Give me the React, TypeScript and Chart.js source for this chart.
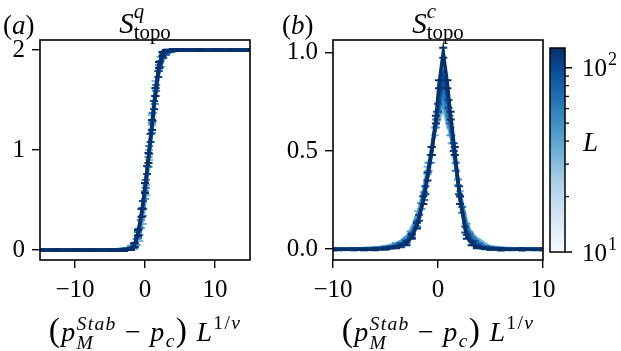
import React, { useEffect, useRef } from 'react';
import { Chart, registerables } from 'chart.js';
Chart.register(...registerables);

const FONT = "'Liberation Serif', 'Times New Roman', serif";
const W = 621;
const H = 351;

// System sizes (colour scale)
const L_VALUES = [32, 48, 64, 96, 128];
const L_MIN = 10;
const L_MAX = 128;

// Panel (a): S^q_topo vs scaled x
const QX_32 = [-14, -10, -6, -3, -1.5, -0.8, -0.3, 0.2, 0.6, 1.0, 1.5, 2.2, 3.2, 6, 10, 14];
const QY_32 = [0, 0, 0, 0, 0.03, 0.12, 0.3, 0.6, 0.95, 1.3, 1.65, 1.9, 1.99, 2, 2, 2];
const QE_32 = [0.01, 0.01, 0.01, 0.01, 0.02, 0.03, 0.04, 0.05, 0.05, 0.05, 0.04, 0.03, 0.02, 0.01, 0.01, 0.01];

const QX_48 = [-15, -11, -7, -4, -2, -1.2, -0.6, 0, 0.5, 1, 1.4, 2, 2.8, 4, 7, 11, 15];
const QY_48 = [0, 0, 0, 0, 0.02, 0.08, 0.26, 0.55, 0.88, 1.22, 1.5, 1.82, 1.97, 2, 2, 2, 2];
const QE_48 = [0.01, 0.01, 0.01, 0.01, 0.02, 0.03, 0.04, 0.04, 0.05, 0.05, 0.04, 0.03, 0.02, 0.01, 0.01, 0.01, 0.01];

const QX_64 = [-14.5, -12, -8, -5, -2.5, -1.6, -1, -0.4, 0.1, 0.6, 1.1, 1.6, 2.2, 3, 4.5, 8, 12, 14.5];
const QY_64 = [0, 0, 0, 0, 0.01, 0.04, 0.15, 0.38, 0.66, 1.0, 1.33, 1.62, 1.86, 1.97, 2, 2, 2, 2];
const QE_64 = [0.01, 0.01, 0.01, 0.01, 0.01, 0.02, 0.03, 0.04, 0.04, 0.04, 0.04, 0.03, 0.03, 0.02, 0.01, 0.01, 0.01, 0.01];

const QX_96 = [-15, -13, -10, -7, -4, -2.2, -1.5, -0.9, -0.3, 0.3, 0.8, 1.3, 1.9, 2.6, 3.5, 5, 8, 11, 14];
const QY_96 = [0, 0, 0, 0, 0, 0.01, 0.05, 0.18, 0.45, 0.8, 1.12, 1.45, 1.76, 1.94, 1.99, 2, 2, 2, 2];
const QE_96 = [0.01, 0.01, 0.01, 0.01, 0.01, 0.01, 0.02, 0.03, 0.04, 0.04, 0.04, 0.04, 0.03, 0.02, 0.01, 0.01, 0.01, 0.01, 0.01];

const QX_128 = [-15, -12.5, -10, -7.5, -5, -3, -2, -1.5, -1, -0.5, 0, 0.5, 1, 1.5, 2, 2.5, 3, 4, 5, 7.5, 10, 12.5, 15];
const QY_128 = [0, 0, 0, 0, 0, 0, 0.01, 0.05, 0.17, 0.37, 0.62, 0.92, 1.25, 1.58, 1.85, 1.96, 1.99, 2, 2, 2, 2, 2, 2];
const QE_128 = [0.01, 0.01, 0.01, 0.01, 0.01, 0.01, 0.01, 0.02, 0.03, 0.04, 0.05, 0.05, 0.05, 0.04, 0.03, 0.02, 0.01, 0.01, 0.01, 0.01, 0.01, 0.01, 0.01];

// Panel (b): S^c_topo vs scaled x
const CX_32 = [-8, -5, -3, -1.9, -1, -0.3, 0.5, 1.3, 2.1, 3, 5, 8];
const CY_32 = [0, 0.01, 0.05, 0.18, 0.4, 0.6, 0.72, 0.56, 0.28, 0.08, 0.01, 0];
const CE_32 = [0.005, 0.005, 0.01, 0.015, 0.02, 0.02, 0.02, 0.02, 0.015, 0.01, 0.005, 0.005];

const CX_48 = [-9, -6, -4, -2.6, -1.6, -0.9, -0.2, 0.5, 1.2, 1.9, 2.7, 4, 6, 9];
const CY_48 = [0, 0.005, 0.02, 0.08, 0.22, 0.42, 0.64, 0.76, 0.6, 0.34, 0.12, 0.02, 0, 0];
const CE_48 = [0.005, 0.005, 0.01, 0.01, 0.015, 0.02, 0.02, 0.02, 0.02, 0.015, 0.01, 0.01, 0.005, 0.005];

const CX_64 = [-9.5, -7, -4.5, -3, -2, -1.3, -0.7, -0.1, 0.5, 1.1, 1.7, 2.3, 3, 4.5, 7, 9.5];
const CY_64 = [0, 0, 0.01, 0.04, 0.13, 0.27, 0.46, 0.68, 0.8, 0.66, 0.42, 0.2, 0.07, 0.01, 0, 0];
const CE_64 = [0.005, 0.005, 0.005, 0.01, 0.015, 0.02, 0.02, 0.02, 0.02, 0.02, 0.02, 0.015, 0.01, 0.005, 0.005, 0.005];

const CX_96 = [-10, -7, -5, -3.5, -2.5, -1.8, -1.2, -0.6, 0, 0.5, 1, 1.5, 2, 2.6, 3.4, 4.5, 6, 8, 10];
const CY_96 = [0, 0, 0.005, 0.02, 0.07, 0.16, 0.3, 0.5, 0.72, 0.88, 0.74, 0.52, 0.3, 0.1, 0.03, 0.005, 0, 0, 0];
const CE_96 = [0.005, 0.005, 0.005, 0.01, 0.01, 0.015, 0.02, 0.02, 0.02, 0.02, 0.02, 0.02, 0.02, 0.015, 0.01, 0.005, 0.005, 0.005, 0.005];

const CX_128 = [-10, -8, -6, -5, -4, -3, -2.5, -2, -1.4, -1, -0.6, -0.2, 0.1, 0.5, 0.9, 1.2, 1.6, 2.1, 2.75, 3.2, 3.7, 5, 6, 8, 10];
const CY_128 = [0, 0, 0, 0.003, 0.01, 0.03, 0.063, 0.12, 0.25, 0.37, 0.5, 0.66, 0.84, 1.0, 0.84, 0.68, 0.5, 0.25, 0.063, 0.03, 0.01, 0.002, 0, 0, 0];
const CE_128 = [0.005, 0.005, 0.005, 0.005, 0.005, 0.01, 0.01, 0.015, 0.02, 0.02, 0.02, 0.02, 0.02, 0.025, 0.02, 0.02, 0.02, 0.02, 0.01, 0.01, 0.005, 0.005, 0.005, 0.005, 0.005];

// Tick values
const A_XTICKS = [-10, 0, 10];
const A_YTICKS = [0, 1, 2];
const B_XTICKS = [-10, 0, 10];
const B_YTICKS = [0, 0.5, 1];
const CB_MINOR = [20, 30, 40, 50, 60, 70, 80, 90];
const CB_MAJOR = [10, 100];

const QX = [QX_32, QX_48, QX_64, QX_96, QX_128];
const QY = [QY_32, QY_48, QY_64, QY_96, QY_128];
const QE = [QE_32, QE_48, QE_64, QE_96, QE_128];
const CX = [CX_32, CX_48, CX_64, CX_96, CX_128];
const CY = [CY_32, CY_48, CY_64, CY_96, CY_128];
const CE = [CE_32, CE_48, CE_64, CE_96, CE_128];

const SERIES_A = L_VALUES.map((L, i) => ({ L, x: QX[i], y: QY[i], e: QE[i] }));
const SERIES_B = L_VALUES.map((L, i) => ({ L, x: CX[i], y: CY[i], e: CE[i] }));

const BLUES = ['#f7fbff', '#deebf7', '#c6dbef', '#9ecae1', '#6baed6', '#4292c6', '#2171b5', '#08519c', '#08306b'];
function hex(c: string) {
  return [parseInt(c.slice(1, 3), 16), parseInt(c.slice(3, 5), 16), parseInt(c.slice(5, 7), 16)];
}
function blues(t: number) {
  const tt = Math.max(0, Math.min(1, t)) * (BLUES.length - 1);
  const i = Math.min(BLUES.length - 2, Math.floor(tt));
  const f = tt - i;
  const a = hex(BLUES[i]);
  const b = hex(BLUES[i + 1]);
  const c = a.map((v, k) => Math.round(v + (b[k] - v) * f));
  return `rgb(${c[0]},${c[1]},${c[2]})`;
}
function lColor(L: number) {
  return blues((Math.log10(L) - Math.log10(L_MIN)) / (Math.log10(L_MAX) - Math.log10(L_MIN)));
}

const fmtInt = (v: number) => (v < 0 ? '\u2212' + Math.abs(v) : String(v));
const fmt1 = (v: number) => v.toFixed(1);

const errorBars = {
  id: 'errorBars',
  afterDatasetDraw(chart: any, args: any) {
    const ds = chart.data.datasets[args.index];
    if (!ds.errors) return;
    const { ctx, chartArea: a } = chart;
    const xs = chart.scales.x;
    const ys = chart.scales.y;
    ctx.save();
    ctx.beginPath();
    ctx.rect(a.left, a.top, a.right - a.left, a.bottom - a.top);
    ctx.clip();
    ctx.strokeStyle = ds.errorColor;
    ctx.lineWidth = 2;
    ds.data.forEach((p: any, i: number) => {
      const px = xs.getPixelForValue(p.x);
      const y1 = ys.getPixelForValue(p.y - ds.errors[i]);
      const y2 = ys.getPixelForValue(p.y + ds.errors[i]);
      ctx.beginPath();
      ctx.moveTo(px, y1);
      ctx.lineTo(px, y2);
      ctx.moveTo(px - 4, y1);
      ctx.lineTo(px + 4, y1);
      ctx.moveTo(px - 4, y2);
      ctx.lineTo(px + 4, y2);
      ctx.stroke();
    });
    ctx.restore();
  },
};

const frame = {
  id: 'frame',
  afterDraw(chart: any) {
    const { ctx, chartArea: a } = chart;
    ctx.save();
    ctx.strokeStyle = '#000';
    ctx.lineWidth = 1.6;
    ctx.strokeRect(a.left, a.top, a.right - a.left, a.bottom - a.top);
    ctx.restore();
  },
};

function panelConfig(series: any[], xmin: number, xmax: number, ymin: number, ymax: number,
  xticks: number[], yticks: number[], yfmt: (v: number) => string, padLeft: number, padRight: number, yWidth: number) {
  const tickFont = { family: FONT, size: 25 };
  return {
    type: 'scatter',
    data: {
      datasets: series.map((s) => ({
        data: s.x.map((x: number, i: number) => ({ x, y: s.y[i] })),
        errors: s.e,
        errorColor: lColor(s.L),
        order: -s.L,
        showLine: true,
        borderColor: lColor(s.L),
        backgroundColor: lColor(s.L),
        borderWidth: 3.5,
        pointStyle: 'rect',
        pointRadius: 2,
        pointBorderWidth: 0,
        tension: 0,
      })),
    },
    options: {
      responsive: false,
      animation: false,
      devicePixelRatio: 1,
      layout: { padding: { left: padLeft, right: padRight, top: 40, bottom: 51 } },
      plugins: { legend: { display: false }, tooltip: { enabled: false }, title: { display: false } },
      scales: {
        x: {
          type: 'linear', min: xmin, max: xmax,
          afterBuildTicks: (s: any) => { s.ticks = xticks.map((v) => ({ value: v })); },
          afterFit: (s: any) => { s.height = 40; },
          grid: { drawOnChartArea: false, drawTicks: true, tickLength: 8, color: '#000', lineWidth: 1.4 },
          border: { display: false },
          ticks: { font: tickFont, color: '#000', padding: 7, maxRotation: 0, callback: (v: any) => fmtInt(Number(v)) },
        },
        y: {
          type: 'linear', min: ymin, max: ymax,
          afterBuildTicks: (s: any) => { s.ticks = yticks.map((v) => ({ value: v })); },
          afterFit: (s: any) => { s.width = yWidth; },
          grid: { drawOnChartArea: false, drawTicks: true, tickLength: 8, color: '#000', lineWidth: 1.4 },
          border: { display: false },
          ticks: { font: tickFont, color: '#000', padding: 7, callback: (v: any) => yfmt(Number(v)) },
        },
      },
    },
    plugins: [errorBars, frame],
  };
}

const colorbar = {
  id: 'colorbar',
  afterDraw(chart: any) {
    const { ctx, chartArea: a } = chart;
    const s = chart.scales.y;
    ctx.save();
    const g = ctx.createLinearGradient(0, s.getPixelForValue(L_MIN), 0, s.getPixelForValue(L_MAX));
    for (let i = 0; i <= 32; i++) g.addColorStop(i / 32, blues(i / 32));
    ctx.fillStyle = g;
    ctx.fillRect(a.left, a.top, a.right - a.left, a.bottom - a.top);
    ctx.strokeStyle = '#000';
    ctx.lineWidth = 1.5;
    ctx.strokeRect(a.left, a.top, a.right - a.left, a.bottom - a.top);
    ctx.lineWidth = 1.3;
    ctx.beginPath();
    CB_MINOR.forEach((v) => {
      const y = s.getPixelForValue(v);
      ctx.moveTo(a.right, y);
      ctx.lineTo(a.right + 4, y);
    });
    CB_MAJOR.forEach((v) => {
      const y = s.getPixelForValue(v);
      ctx.moveTo(a.right, y);
      ctx.lineTo(a.right + 7, y);
    });
    ctx.stroke();
    ctx.fillStyle = '#000';
    ctx.textBaseline = 'middle';
    CB_MAJOR.forEach((v) => {
      const y = s.getPixelForValue(v);
      const exp = String(Math.round(Math.log10(v)));
      ctx.font = `25px ${FONT}`;
      const x0 = a.right + 17;
      ctx.fillText('10', x0, y + 2);
      const w = ctx.measureText('10').width;
      ctx.font = `18px ${FONT}`;
      ctx.fillText(exp, x0 + w + 1, y - 7);
    });
    ctx.restore();
  },
};

function cbConfig() {
  return {
    type: 'scatter',
    data: { datasets: [] },
    options: {
      responsive: false,
      animation: false,
      devicePixelRatio: 1,
      layout: { padding: { left: 550, right: 0, top: 48, bottom: 99 } },
      plugins: { legend: { display: false }, tooltip: { enabled: false } },
      scales: {
        x: { display: false, min: 0, max: 1 },
        y: {
          type: 'logarithmic', position: 'right', min: L_MIN, max: L_MAX,
          afterFit: (s: any) => { s.width = 56; },
          ticks: { display: false },
          grid: { display: false },
          border: { display: false },
        },
      },
    },
    plugins: [colorbar],
  };
}

function useChart(ref: any, make: () => any) {
  useEffect(() => {
    const c = new Chart(ref.current, make());
    return () => c.destroy();
  }, []);
}

const canvasStyle: any = { position: 'absolute', left: 0, top: 0, width: W, height: H };

const SS = ({ sup, sub, size = '0.7em', va = '-0.42em' }: any) => (
  <span style={{ display: 'inline-block', verticalAlign: va, fontSize: size, lineHeight: 1.0, textAlign: 'left' }}>
    <span style={{ display: 'block' }}>{sup}</span>
    <span style={{ display: 'block' }}>{sub}</span>
  </span>
);

const AxisTitle = () => (
  <span style={{ whiteSpace: 'nowrap', letterSpacing: '1.3px' }}>
    <span style={{ fontSize: '1.2em' }}>(</span>
    <i>p</i>
    <SS sup={<i>Stab</i>} sub={<i>M</i>} />
    {'\u2005\u2212\u2005'}
    <i>p</i>
    <sub style={{ fontSize: '0.7em', verticalAlign: '-0.3em' }}><i>c</i></sub>
    <span style={{ fontSize: '1.2em' }}>)</span>
    {'\u2005'}
    <i>L</i>
    <sup style={{ fontSize: '0.7em', verticalAlign: '0.6em' }}>1/<i>ν</i></sup>
  </span>
);

export default function App() {
  const refA = useRef<HTMLCanvasElement>(null);
  const refB = useRef<HTMLCanvasElement>(null);
  const refC = useRef<HTMLCanvasElement>(null);
  useChart(refA, () => panelConfig(SERIES_A, -15, 15, -0.1, 2.1, A_XTICKS, A_YTICKS, fmtInt, 0, W - 250, 40));
  useChart(refB, () => panelConfig(SERIES_B, -10, 10, -0.055, 1.065, B_XTICKS, B_YTICKS, fmt1, 273, W - 543, 60));
  useChart(refC, () => cbConfig());

  const txt: any = { position: 'absolute', fontFamily: FONT, fontSize: 25, color: '#000', lineHeight: 1, whiteSpace: 'nowrap' };
  return (
    <div style={{ position: 'fixed', left: 0, top: 0, width: W, height: H, background: '#fff', overflow: 'hidden' }}>
      <canvas ref={refA} width={W} height={H} style={canvasStyle} />
      <canvas ref={refB} width={W} height={H} style={canvasStyle} />
      <canvas ref={refC} width={W} height={H} style={canvasStyle} />
      <div style={{ ...txt, fontSize: 27, left: 3, top: 12 }}>(<i>a</i>)</div>
      <div style={{ ...txt, fontSize: 27, left: 282, top: 12 }}>(<i>b</i>)</div>
      <div style={{ ...txt, fontSize: 29, left: 40, width: 210, top: 1, textAlign: 'center' }}>
        <i>S</i><SS sup={<i>q</i>} sub={'topo'} size="0.72em" va="-0.3em" />
      </div>
      <div style={{ ...txt, fontSize: 29, left: 333, width: 210, top: 1, textAlign: 'center' }}>
        <i>S</i><SS sup={<i>c</i>} sub={'topo'} size="0.72em" va="-0.3em" />
      </div>
      <div style={{ ...txt, fontSize: 28, left: 30, width: 230, top: 313, textAlign: 'center' }}><AxisTitle /></div>
      <div style={{ ...txt, fontSize: 28, left: 323, width: 230, top: 313, textAlign: 'center' }}><AxisTitle /></div>
      <div style={{ ...txt, fontSize: 27, left: 583, top: 129 }}><i>L</i></div>
    </div>
  );
}
